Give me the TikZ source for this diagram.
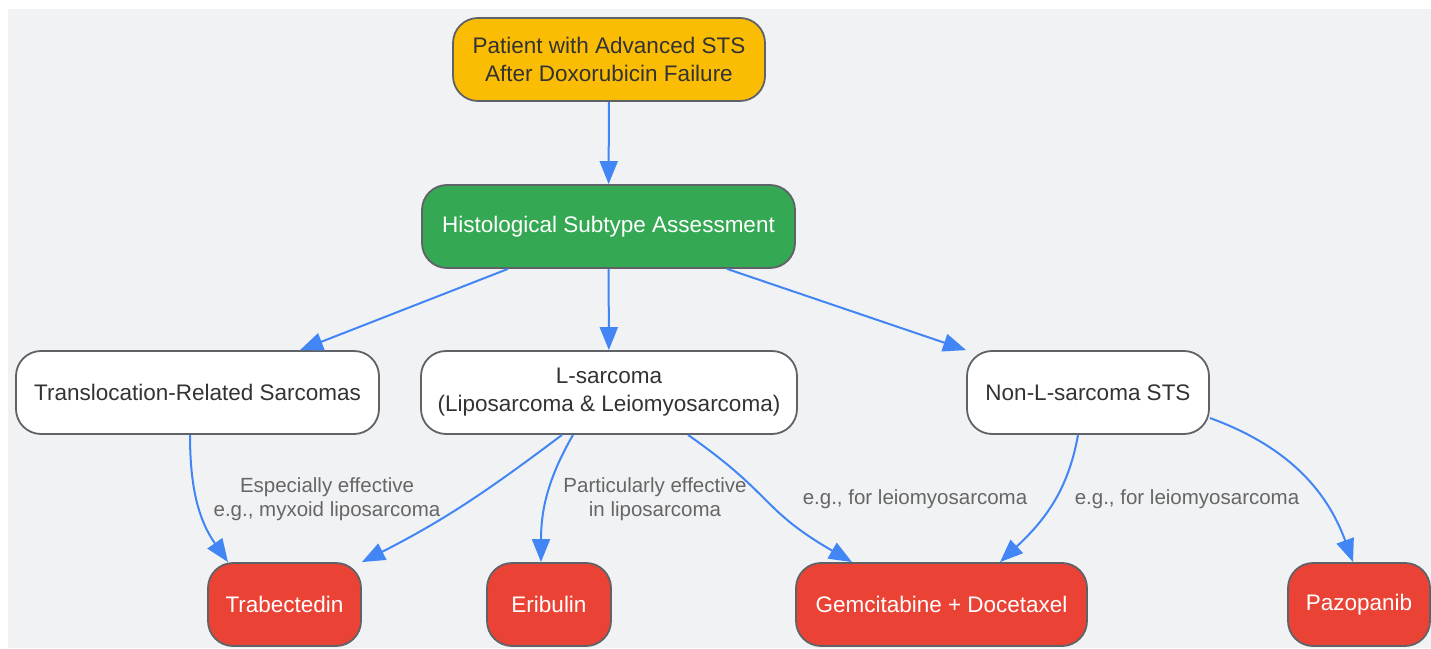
\documentclass[tikz,border=0pt]{standalone}
\usepackage{fontspec}
\setmainfont{Liberation Sans}
\usetikzlibrary{arrows.meta}
\definecolor{bgcol}{HTML}{F1F2F4}
\definecolor{edgecol}{HTML}{4285F4}
\definecolor{linecol}{HTML}{5F6368}
\definecolor{startcol}{HTML}{FBBC04}
\definecolor{assesscol}{HTML}{34A853}
\definecolor{drugcol}{HTML}{EA4335}
\definecolor{textcol}{HTML}{333333}
\definecolor{labelcol}{HTML}{666666}
\begin{document}
\begin{tikzpicture}[x=1pt, y=1pt,
        box/.style = {draw=linecol, line width=1.8pt, rounded corners=25pt, minimum height=83pt, inner sep=0pt, align=center, font=\fontsize{22.5}{28}\selectfont},
        startbox/.style = {box, fill=startcol, text=textcol},
        assessbox/.style = {box, fill=assesscol, text=white},
        groupbox/.style = {box, fill=white, text=textcol},
        drugbox/.style = {box, fill=drugcol, text=white},
        edgelabel/.style = {text=labelcol, align=center, font=\fontsize{20.5}{24}\selectfont},
        arrow/.style = {draw=edgecol, line width=2pt, -{Triangle[length=23pt, width=18pt]}}]
    \useasboundingbox (0,0) rectangle (1431,648);
    \fill [bgcol] (8,0) rectangle (1431,639);
    % nodes
    \node [startbox, minimum width=312pt] (patient) at (609, 588.5) {Patient with Advanced STS\\After Doxorubicin Failure};
    \node [assessbox, minimum width=373pt] (histo) at (608.5, 421.5) {Histological Subtype Assessment};
    \node [groupbox, minimum width=363pt] (transloc) at (197.5, 255.5) {Translocation-Related Sarcomas};
    \node [groupbox, minimum width=376pt] (lsarc) at (609, 255.5) {L-sarcoma\\(Liposarcoma \& Leiomyosarcoma)};
    \node [groupbox, minimum width=242pt] (nonl) at (1088, 255.5) {Non-L-sarcoma STS};
    \node [drugbox, minimum width=153pt] (trab) at (284.5, 43.5) {Trabectedin};
    \node [drugbox, minimum width=124pt] (erib) at (549, 43.5) {Eribulin};
    \node [drugbox, minimum width=291pt] (gemc) at (941.5, 43.5) {Gemcitabine + Docetaxel};
    \node [drugbox, minimum width=142pt] (pazo) at (1359, 43.5) {Pazopanib};
    % edge labels
    \node [edgelabel] (labtrab) at (327, 149) {Especially effective\\e.g., myxoid liposarcoma};
    \node [edgelabel] (laberib) at (655, 149) {Particularly effective\\in liposarcoma};
    \node [edgelabel] (labgemc) at (915, 149) {e.g., for leiomyosarcoma};
    \node [edgelabel] (labnonl) at (1187, 149) {e.g., for leiomyosarcoma};
    % connectors
    \draw [arrow] (patient) -- (histo);
    \draw [arrow] ([xshift=-100.5pt]histo.south) -- ([xshift=102.5pt]transloc.north);
    \draw [arrow] (histo) -- (lsarc);
    \draw [arrow] ([xshift=118.5pt]histo.south) -- (nonl.north west);
    \draw [arrow] ([xshift=-7.5pt]transloc.south) to [out=-90, in=125] ([xshift=-56.5pt]trab.north);
    \draw [arrow] ([xshift=-47pt]lsarc.south) to [out=-143, in=27] (trab.north east);
    \draw [arrow] ([xshift=-36pt]lsarc.south) to [out=-120, in=90] ([xshift=-8pt]erib.north);
    \draw [arrow] ([xshift=79pt]lsarc.south) to [out=-35, in=150, looseness=1.3] ([xshift=-89.5pt]gemc.north);
    \draw [arrow] ([xshift=-10pt]nonl.south) to [out=-100, in=43] ([xshift=58.5pt]gemc.north);
    \draw [arrow] ([yshift=-25.5pt]nonl.east) to [out=-20, in=110] ([xshift=-6pt]pazo.north);
\end{tikzpicture}
\end{document}
